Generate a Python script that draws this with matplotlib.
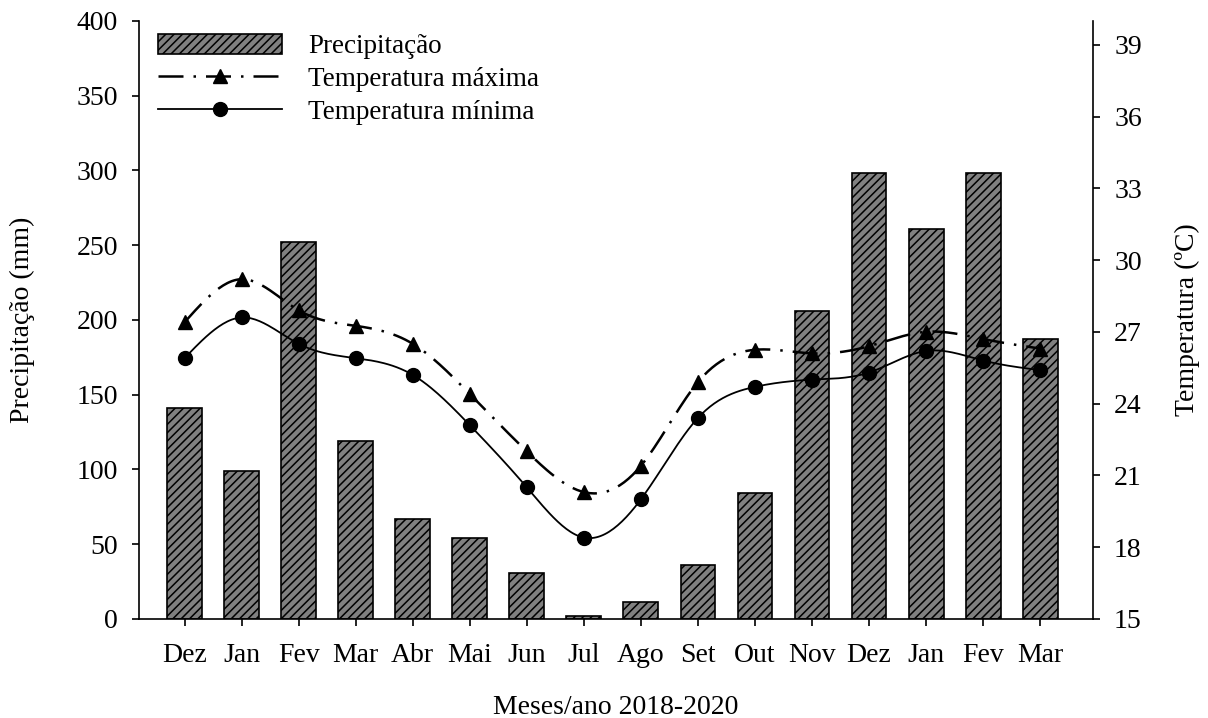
import numpy as np
import matplotlib
matplotlib.use("Agg")
import matplotlib.pyplot as plt
from matplotlib.lines import Line2D
from matplotlib.patches import Patch

plt.rcParams['font.family'] = ['Liberation Serif', 'DejaVu Serif']
plt.rcParams['hatch.linewidth'] = 1.1

months = ["Dez", "Jan", "Fev", "Mar", "Abr", "Mai", "Jun", "Jul",
          "Ago", "Set", "Out", "Nov", "Dez", "Jan", "Fev", "Mar"]
precip = [141, 99, 252, 119, 67, 54, 31, 2, 11, 36, 84, 206, 298, 261, 298, 187]
tmax = [27.4, 29.2, 27.9, 27.25, 26.5, 24.4, 22.0, 20.3, 21.4, 24.9, 26.25,
        26.1, 26.4, 27.0, 26.7, 26.3]
tmin = [25.9, 27.6, 26.5, 25.9, 25.2, 23.1, 20.5, 18.4, 20.0, 23.4, 24.7,
        25.0, 25.3, 26.2, 25.8, 25.4]
left_ticks = [0, 50, 100, 150, 200, 250, 300, 350, 400]
right_ticks = [15, 18, 21, 24, 27, 30, 33, 36, 39]


def natural_spline(x, y, n=400):
    x = np.asarray(x, float)
    y = np.asarray(y, float)
    k = len(x)
    h = np.diff(x)
    A = np.zeros((k, k))
    b = np.zeros(k)
    A[0, 0] = A[-1, -1] = 1
    for i in range(1, k - 1):
        A[i, i - 1] = h[i - 1]
        A[i, i] = 2 * (h[i - 1] + h[i])
        A[i, i + 1] = h[i]
        b[i] = 3 * ((y[i + 1] - y[i]) / h[i] - (y[i] - y[i - 1]) / h[i - 1])
    c = np.linalg.solve(A, b)
    xs = np.linspace(x[0], x[-1], n)
    idx = np.clip(np.searchsorted(x, xs) - 1, 0, k - 2)
    dx = xs - x[idx]
    bb = (y[idx + 1] - y[idx]) / h[idx] - h[idx] * (2 * c[idx] + c[idx + 1]) / 3
    dd = (c[idx + 1] - c[idx]) / (3 * h[idx])
    ys = y[idx] + bb * dx + c[idx] * dx ** 2 + dd * dx ** 3
    return xs, ys


fig = plt.figure(figsize=(12.08, 7.18), dpi=100)
ax = fig.add_axes([0.115, 0.138, 0.790, 0.833])
x = np.arange(len(months))

ax.bar(x, precip, width=0.61, color='#808080', edgecolor='black',
       linewidth=1.2, hatch='////', zorder=1)
ax.set_ylim(0, 400)
ax.set_xlim(-0.8, 15.93)
ax.set_yticks(left_ticks)
ax.set_xticks(x)
ax.set_xticklabels(months)
ax.tick_params(axis='both', direction='out', labelsize=20, length=5, width=1.2)
ax.tick_params(axis='x', pad=12)
ax.tick_params(axis='y', pad=10)
ax.set_ylabel("Precipitação (mm)", fontsize=20, labelpad=30)
ax.set_xlabel("Meses/ano 2018-2020", fontsize=20, labelpad=20)
ax.spines['top'].set_visible(False)
ax.spines['right'].set_visible(False)
for s in ['left', 'bottom']:
    ax.spines[s].set_linewidth(1.2)

ax2 = ax.twinx()
ax2.set_ylim(15, 40)
ax2.set_yticks(right_ticks)
ax2.tick_params(axis='y', direction='out', labelsize=20, length=5, width=1.2,
                pad=10)
ax2.set_ylabel("Temperatura (ºC)", fontsize=20, labelpad=24)
ax2.spines['top'].set_visible(False)
ax2.spines['left'].set_visible(False)
ax2.spines['bottom'].set_visible(False)
ax2.spines['right'].set_linewidth(1.2)

xs, ys = natural_spline(x, tmax)
ax2.plot(xs, ys, color='black', linewidth=1.8, linestyle=(0, (10, 4, 1, 4)))
ax2.plot(x, tmax, linestyle='none', marker='^', color='black', markersize=10)
xs, ys = natural_spline(x, tmin)
ax2.plot(xs, ys, color='black', linewidth=1.3)
ax2.plot(x, tmin, linestyle='none', marker='o', color='black', markersize=10)

handles = [
    Patch(facecolor='#808080', edgecolor='black', hatch='////', linewidth=1.2),
    Line2D([], [], color='black', linewidth=1.8, linestyle=(0, (10, 4, 1, 4)),
           marker='^', markersize=10),
    Line2D([], [], color='black', linewidth=1.3, marker='o', markersize=10),
]
labels = ["Precipitação", "Temperatura máxima", "Temperatura mínima"]
ax.legend(handles, labels, loc='upper left', bbox_to_anchor=(0.0, 1.01),
          frameon=False, fontsize=19.5, handlelength=4.6, handleheight=0.75,
          handletextpad=0.95, labelspacing=0.28, borderaxespad=0.3)

fig.savefig("out.png", dpi=100)
